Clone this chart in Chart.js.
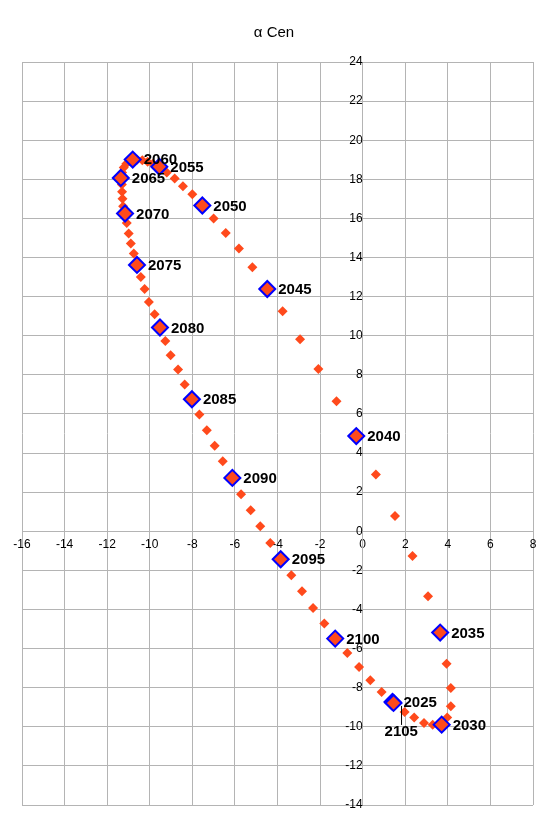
<!DOCTYPE html>
<html>
<head>
<meta charset="utf-8">
<script src="https://cdn.jsdelivr.net/npm/chart.js@4/dist/chart.umd.min.js"></script>
<style>
  body { margin: 0; background: #fff; }
  #wrap { width: 549px; height: 836px; }
</style>
</head>
<body>
<div id="wrap"><canvas id="orbitChart"></canvas></div>
<script>
// yearly positions 2025..2105
const years = [];
for (let y = 2025; y <= 2105; y++) years.push(y);

const xValues = [
    1.40, 1.97, 2.42, 2.88, 3.29, 3.71, 3.97, 4.14, 4.14, 3.94,
    3.64, 3.07, 2.34, 1.52, 0.62, -0.30, -1.23, -2.08, -2.94, -3.76,
    -4.48, -5.18, -5.81, -6.43, -7.00, -7.53, -8.00, -8.44, -8.83, -9.20,
    -9.55, -9.85, -10.10, -10.35, -10.60, -10.80, -10.95, -11.10, -11.22, -11.30,
    -11.36, -11.31, -11.30, -11.28, -11.25, -11.16, -11.08, -10.99, -10.89, -10.75,
    -10.60, -10.42, -10.24, -10.04, -9.77, -9.52, -9.27, -9.02, -8.67, -8.36,
    -8.02, -7.67, -7.32, -6.95, -6.57, -6.12, -5.71, -5.26, -4.81, -4.34,
    -3.85, -3.35, -2.85, -2.33, -1.80, -1.29, -0.72, -0.17, 0.36, 0.89,
    1.45
];
const yValues = [
    -8.73, -9.24, -9.53, -9.81, -9.89, -9.89, -9.53, -8.95, -8.01, -6.77,
    -5.18, -3.33, -1.26, 0.78, 2.90, 4.87, 6.65, 8.30, 9.82, 11.25,
    12.39, 13.50, 14.46, 15.26, 15.99, 16.66, 17.24, 17.65, 18.04, 18.35,
    18.64, 18.80, 18.90, 18.97, 19.00, 19.01, 18.95, 18.80, 18.60, 18.35,
    18.07, 17.73, 17.37, 17.00, 16.62, 16.25, 15.77, 15.23, 14.72, 14.20,
    13.62, 13.00, 12.39, 11.73, 11.10, 10.42, 9.73, 9.00, 8.27, 7.50,
    6.75, 5.97, 5.17, 4.37, 3.58, 2.73, 1.89, 1.07, 0.26, -0.60,
    -1.43, -2.25, -3.07, -3.92, -4.72, -5.49, -6.22, -6.94, -7.62, -8.22,
    -8.78
];

const xTicks = [-16, -14, -12, -10, -8, -6, -4, -2, 0, 2, 4, 6, 8];
const yTicks = [-14, -12, -10, -8, -6, -4, -2, 0, 2, 4, 6, 8, 10, 12, 14, 16, 18, 20, 22, 24];

const allPoints = years.map((yr, i) => ({ x: xValues[i], y: yValues[i], year: yr }));
const markedPoints = allPoints.filter(p => p.year % 5 === 0);

const orange = '#ff4a1c';

// year labels next to the marked points
const yearLabels = {
    id: 'yearLabels',
    afterDatasetsDraw(chart) {
        const ctx = chart.ctx;
        const meta = chart.getDatasetMeta(1);
        ctx.save();
        ctx.font = 'bold 15px "Liberation Sans", Arial, sans-serif';
        ctx.fillStyle = '#000';
        ctx.textBaseline = 'middle';
        meta.data.forEach((el, i) => {
            const yr = markedPoints[i].year;
            if (yr === 2105) {
                ctx.strokeStyle = '#000';
                ctx.lineWidth = 1;
                ctx.beginPath();
                ctx.moveTo(el.x + 8, el.y + 3);
                ctx.lineTo(el.x + 8, el.y + 22);
                ctx.stroke();
                ctx.fillText(String(yr), el.x - 9, el.y + 29);
            } else {
                ctx.fillText(String(yr), el.x + 11, el.y + (yr === 2060 ? 0 : 1));
            }
        });
        ctx.restore();
    }
};

const titlePlugin = {
    id: 'titleText',
    afterDraw(chart) {
        const ctx = chart.ctx;
        ctx.save();
        ctx.font = '15px "Liberation Sans", Arial, sans-serif';
        ctx.fillStyle = '#000';
        ctx.textAlign = 'center';
        ctx.textBaseline = 'middle';
        ctx.fillText('α Cen', 274, 33);
        ctx.restore();
    }
};

const ctx = document.getElementById('orbitChart').getContext('2d');
new Chart(ctx, {
    type: 'scatter',
    data: {
        datasets: [
            {
                data: allPoints,
                pointStyle: 'rectRot',
                pointRadius: 5,
                backgroundColor: orange,
                borderColor: orange,
                borderWidth: 0,
                order: 2
            },
            {
                data: markedPoints,
                pointStyle: 'rectRot',
                pointRadius: 8,
                backgroundColor: orange,
                borderColor: '#0000ff',
                borderWidth: 2,
                order: 1
            }
        ]
    },
    options: {
        responsive: true,
        maintainAspectRatio: false,
        animation: false,
        layout: { padding: { left: 22, right: 16, top: 62, bottom: 31 } },
        plugins: {
            legend: { display: false },
            tooltip: { enabled: false }
        },
        scales: {
            x: {
                type: 'linear',
                min: -16,
                max: 8,
                position: { y: 0 },
                afterBuildTicks: axis => { axis.ticks = xTicks.map(v => ({ value: v })); },
                grid: { color: '#b4b4b4', lineWidth: 1, drawTicks: false },
                border: { color: '#b4b4b4' },
                ticks: {
                    color: '#000',
                    padding: 6,
                    maxRotation: 0,
                    autoSkip: false,
                    font: { size: 12, family: '"Liberation Sans", Arial, sans-serif' }
                }
            },
            y: {
                type: 'linear',
                min: -14,
                max: 24,
                position: { x: 0 },
                afterBuildTicks: axis => { axis.ticks = yTicks.map(v => ({ value: v })); },
                grid: { color: '#b4b4b4', lineWidth: 1, drawTicks: false },
                border: { color: '#b4b4b4' },
                ticks: {
                    color: '#000',
                    padding: 8,
                    autoSkip: false,
                    font: { size: 12, family: '"Liberation Sans", Arial, sans-serif' }
                }
            }
        }
    },
    plugins: [yearLabels, titlePlugin]
});
</script>
</body>
</html>
